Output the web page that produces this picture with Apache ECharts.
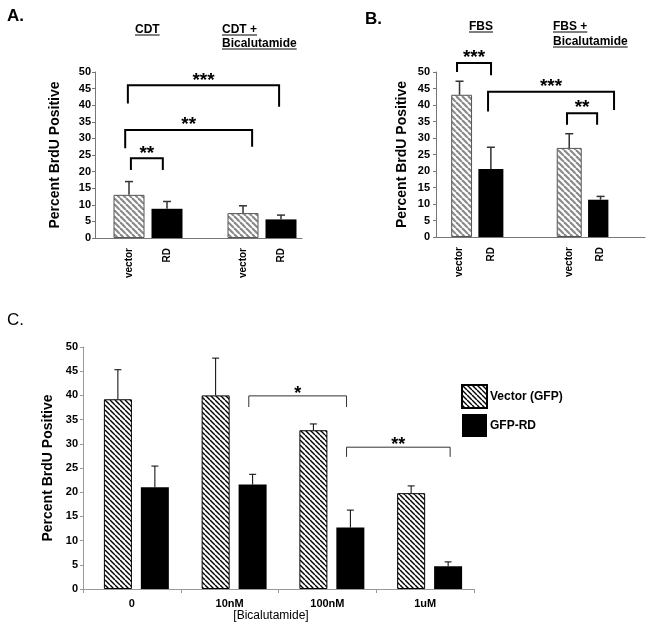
<!DOCTYPE html>
<html><head><meta charset="utf-8">
<script src="https://cdn.jsdelivr.net/npm/echarts@6/dist/echarts.min.js"></script>
<style>html,body{margin:0;padding:0;background:#fff}#chart{width:652px;height:631px}</style>
</head><body><div id="chart"></div>
<script>
const FONT = "'Liberation Sans', Arial, Helvetica, sans-serif";

// ---------- data ----------
const cellTypes = ['vector', 'RD'];
const panelAGroups = ['CDT', 'CDT + Bicalutamide'];
const panelAValues = [13.0, 8.8, 7.5, 5.6];
const panelAErrors = [4.0, 2.2, 2.2, 1.3];

const panelBGroups = ['FBS', 'FBS + Bicalutamide'];
const panelBValues = [43.1, 20.6, 27.0, 11.3];
const panelBErrors = [4.1, 6.6, 4.3, 1.0];

const concentrations = ['0', '10nM', '100nM', '1uM'];
const vectorGFP = [39.2, 40.0, 32.8, 19.8];
const vectorGFPErr = [6.1, 7.7, 1.3, 1.5];
const gfpRD = [21.0, 21.6, 12.7, 4.7];
const gfpRDErr = [4.4, 2.1, 3.6, 0.9];
const seriesNamesC = ['Vector (GFP)', 'GFP-RD'];

const yMin = 0, yMax = 50, yStep = 5;
const yAxisName = 'Percent BrdU Positive';
const xAxisNameC = '[Bicalutamide]';

// significance brackets: [from slot, to slot, top, left leg end, right leg end, label]
const bracketsA = [
  [0.05, 0.89, 24.0, 20.5, 20.5, '**'],
  [-0.1, 3.24, 32.5, 27.0, 27.5, '**'],
  [-0.03, 3.95, 46.0, 40.5, 39.5, '***']
];
const bracketsB = [
  [-0.16, 2.01, 52.7, 50.0, 49.0, '***'],
  [1.82, 9.86, 44.0, 38.0, 38.5, '***'],
  [6.86, 8.78, 37.5, 34.0, 34.0, '**']
];
const bracketsC = [
  [1.15, 2.15, 39.9, 37.6, 37.6, '*'],
  [2.15, 3.21, 29.3, 27.3, 27.3, '**']
];

// ---------- layout (slot placement of the four bars in A and B) ----------
const layoutA = { slots: 5, barSlots: [0, 1, 3, 4] };
const layoutB = { slots: 10, barSlots: [0, 2, 7, 9] };

// ---------- helpers ----------
function hatch(size, bg, stroke, lw) {
  const c = document.createElement('canvas');
  c.width = size; c.height = size;
  const g = c.getContext('2d');
  g.fillStyle = bg; g.fillRect(0, 0, size, size);
  g.strokeStyle = stroke; g.lineWidth = lw;
  for (let k = -size; k <= size; k += size) {
    g.beginPath(); g.moveTo(k, 0); g.lineTo(k + size, size); g.stroke();
  }
  return { image: c, repeat: 'repeat' };
}
const hatchAB = hatch(6, '#ffffff', '#8a8a8a', 2.2);
const hatchC = hatch(5, '#ffffff', '#000000', 1.4);

function barLabelsOf(groups) {
  const out = [];
  groups.forEach(() => cellTypes.forEach(c => out.push(c)));
  return out;
}
function slotLabels(groups, layout) {
  const out = new Array(layout.slots).fill('');
  barLabelsOf(groups).forEach((l, i) => { out[layout.barSlots[i]] = l; });
  return out;
}
function slotData(values, layout) {
  const out = [];
  for (let s = 0; s < layout.slots; s++) out.push({ value: '-' });
  values.forEach((v, i) => {
    const isVector = i % cellTypes.length === 0;
    out[layout.barSlots[i]] = {
      value: v,
      itemStyle: isVector ? { color: hatchAB, borderColor: '#555', borderWidth: 1 } : { color: '#000' }
    };
  });
  return out;
}
function slotErr(values, errors, layout) {
  return values.map((v, i) => [layout.barSlots[i], v, v + errors[i]]);
}

function errorSeries(idx, data, shift, color, lw, cap) {
  return {
    type: 'custom', xAxisIndex: idx, yAxisIndex: idx, silent: true, z: 4, clip: false,
    data: data,
    renderItem: (params, api) => {
      const p0 = api.coord([api.value(0), api.value(1)]);
      const p1 = api.coord([api.value(0), api.value(2)]);
      const x = p0[0] + shift;
      return {
        type: 'group', children: [
          { type: 'line', shape: { x1: x, y1: p0[1], x2: x, y2: p1[1] }, style: { stroke: color, lineWidth: lw } },
          { type: 'line', shape: { x1: x - cap, y1: p1[1], x2: x + cap, y2: p1[1] }, style: { stroke: color, lineWidth: lw } }
        ]
      };
    }
  };
}

function bracketSeries(idx, brackets, color, lw, font, starGap) {
  return {
    type: 'custom', xAxisIndex: idx, yAxisIndex: idx, silent: true, z: 6, clip: false,
    data: brackets.map(b => [Math.round(b[0]), b[2]]),
    renderItem: (params, api) => {
      const b = brackets[params.dataIndex];
      const band = api.size([1, 0])[0];
      const pt = (pos, val) => {
        const i = Math.round(pos);
        const p = api.coord([i, val]);
        return [p[0] + (pos - i) * band, p[1]];
      };
      const a = pt(b[0], b[3]), t1 = pt(b[0], b[2]), t2 = pt(b[1], b[2]), c = pt(b[1], b[4]);
      return {
        type: 'group', children: [
          { type: 'polyline', shape: { points: [a, t1, t2, c] }, style: { stroke: color, lineWidth: lw, fill: null } },
          { type: 'text', x: (t1[0] + t2[0]) / 2, y: t1[1] - starGap,
            style: { text: b[5], font: font, fill: '#000', align: 'center', verticalAlign: 'middle' } }
        ]
      };
    }
  };
}

const measureCtx = document.createElement('canvas').getContext('2d');
function headerGraphics(groups, lefts, top, lineH) {
  const els = [];
  const font = 'bold 12px ' + FONT;
  measureCtx.font = font;
  groups.forEach((g, gi) => {
    g.replace('+ ', '+\n').split('\n').forEach((ln, li) => {
      const y = top + li * lineH;
      els.push({ type: 'text', x: lefts[gi], y: y, style: { text: ln, font: font, fill: '#000', align: 'left', verticalAlign: 'middle' } });
      const w = measureCtx.measureText(ln).width;
      els.push({ type: 'line', shape: { x1: lefts[gi], y1: y + 5, x2: lefts[gi] + w, y2: y + 5 }, style: { stroke: '#000', lineWidth: 1 } });
    });
  });
  return els;
}

function yAxisVisible(gridIndex, nameGap, color, margin) {
  return {
    type: 'value', gridIndex: gridIndex, min: yMin, max: yMax, interval: yStep,
    axisLine: { show: true, lineStyle: { color: color, width: 1 } },
    axisTick: { show: true, length: 3, lineStyle: { color: color } },
    splitLine: { show: false },
    axisLabel: { color: '#000', fontWeight: 'bold', fontSize: 11, fontFamily: FONT, margin: margin },
    name: yAxisName, nameLocation: 'middle', nameGap: nameGap,
    nameTextStyle: { color: '#000', fontWeight: 'bold', fontSize: 14, fontFamily: FONT }
  };
}
function yAxisHidden(gridIndex) {
  return { type: 'value', gridIndex: gridIndex, min: yMin, max: yMax, interval: yStep, show: false };
}
function xAxisLineOnly(gridIndex) {
  return {
    type: 'value', gridIndex: gridIndex, min: 0, max: 1,
    axisLine: { show: true, lineStyle: { color: '#777', width: 1 } },
    axisTick: { show: false }, axisLabel: { show: false }, splitLine: { show: false }
  };
}
function xAxisSlots(gridIndex, groups, layout) {
  return {
    type: 'category', gridIndex: gridIndex, data: slotLabels(groups, layout),
    axisLine: { show: false }, axisTick: { show: false },
    axisLabel: { color: '#000', fontWeight: 'bold', fontSize: 10, fontFamily: FONT, rotate: 90, margin: 10, interval: 0 }
  };
}

const chart = echarts.init(document.getElementById('chart'));
chart.setOption({
  animation: false,
  backgroundColor: '#fff',
  textStyle: { fontFamily: FONT },
  grid: [
    { left: 95, top: 72, width: 207, height: 166 },     // A axes
    { left: 110, top: 72, width: 190, height: 166 },    // A bars
    { left: 436, top: 72, width: 209, height: 165 },    // B axes
    { left: 451.7, top: 72, width: 156.7, height: 165 },// B bars
    { left: 83, top: 347, width: 391, height: 242 },    // C axes
    { left: 87.5, top: 347, width: 391, height: 242 }   // C bars
  ],
  xAxis: [
    xAxisLineOnly(0),
    xAxisSlots(1, panelAGroups, layoutA),
    xAxisLineOnly(2),
    xAxisSlots(3, panelBGroups, layoutB),
    {
      type: 'category', gridIndex: 4, data: concentrations,
      axisLine: { show: true, lineStyle: { color: '#999', width: 1 } },
      axisTick: { show: true, length: 4, lineStyle: { color: '#999' } },
      axisLabel: { color: '#000', fontWeight: 'bold', fontSize: 11, fontFamily: FONT, margin: 9 },
      name: xAxisNameC, nameLocation: 'middle', nameGap: 18,
      nameTextStyle: { color: '#000', fontSize: 12, fontFamily: FONT, padding: [0, 15, 0, 0] }
    },
    { type: 'category', gridIndex: 5, data: concentrations, show: false }
  ],
  yAxis: [
    yAxisVisible(0, 33, '#777', 4),
    yAxisHidden(1),
    yAxisVisible(2, 27, '#777', 6),
    yAxisHidden(3),
    yAxisVisible(4, 27, '#999', 5),
    yAxisHidden(5)
  ],
  legend: {
    data: seriesNamesC, orient: 'vertical', left: 461, top: 384, padding: 0,
    itemWidth: 25, itemHeight: 23, itemGap: 5, icon: 'rect', selectedMode: false,
    textStyle: { color: '#000', fontWeight: 'bold', fontSize: 12, fontFamily: FONT, padding: [0, 0, 0, -2] }
  },
  series: [
    { type: 'bar', xAxisIndex: 1, yAxisIndex: 1, barWidth: 31, data: slotData(panelAValues, layoutA), z: 2 },
    errorSeries(1, slotErr(panelAValues, panelAErrors, layoutA), 0, '#333', 1.5, 4),
    bracketSeries(1, bracketsA, '#000', 2, 'bold 19px ' + FONT, 5),

    { type: 'bar', xAxisIndex: 3, yAxisIndex: 3, barWidth: 25, data: slotData(panelBValues, layoutB), z: 2 },
    errorSeries(3, slotErr(panelBValues, panelBErrors, layoutB), 0, '#333', 1.5, 4),
    bracketSeries(3, bracketsB, '#000', 2, 'bold 19px ' + FONT, 5),

    { name: seriesNamesC[0], type: 'bar', xAxisIndex: 5, yAxisIndex: 5, barWidth: 28, barGap: '32%',
      itemStyle: { color: hatchC, borderColor: '#000', borderWidth: 1 }, data: vectorGFP },
    { name: seriesNamesC[1], type: 'bar', xAxisIndex: 5, yAxisIndex: 5, barWidth: 28, barGap: '32%',
      itemStyle: { color: '#000' }, data: gfpRD },
    errorSeries(5, vectorGFP.map((v, i) => [i, v, v + vectorGFPErr[i]]), -18.5, '#000', 1, 3.5),
    errorSeries(5, gfpRD.map((v, i) => [i, v, v + gfpRDErr[i]]), 18.5, '#000', 1, 3.5),
    bracketSeries(5, bracketsC, '#333', 1, 'bold 18px ' + FONT, 2)
  ],
  graphic: [
    { type: 'text', x: 7, y: 16, style: { text: 'A.', font: 'bold 17px ' + FONT, fill: '#000', verticalAlign: 'middle' } },
    { type: 'text', x: 365, y: 19, style: { text: 'B.', font: 'bold 17px ' + FONT, fill: '#000', verticalAlign: 'middle' } },
    { type: 'text', x: 7, y: 320, style: { text: 'C.', font: '17px ' + FONT, fill: '#000', verticalAlign: 'middle' } }
  ].concat(headerGraphics(panelAGroups, [135, 222], 30, 14))
   .concat(headerGraphics(panelBGroups, [469, 553], 27, 15))
});
</script></body></html>
